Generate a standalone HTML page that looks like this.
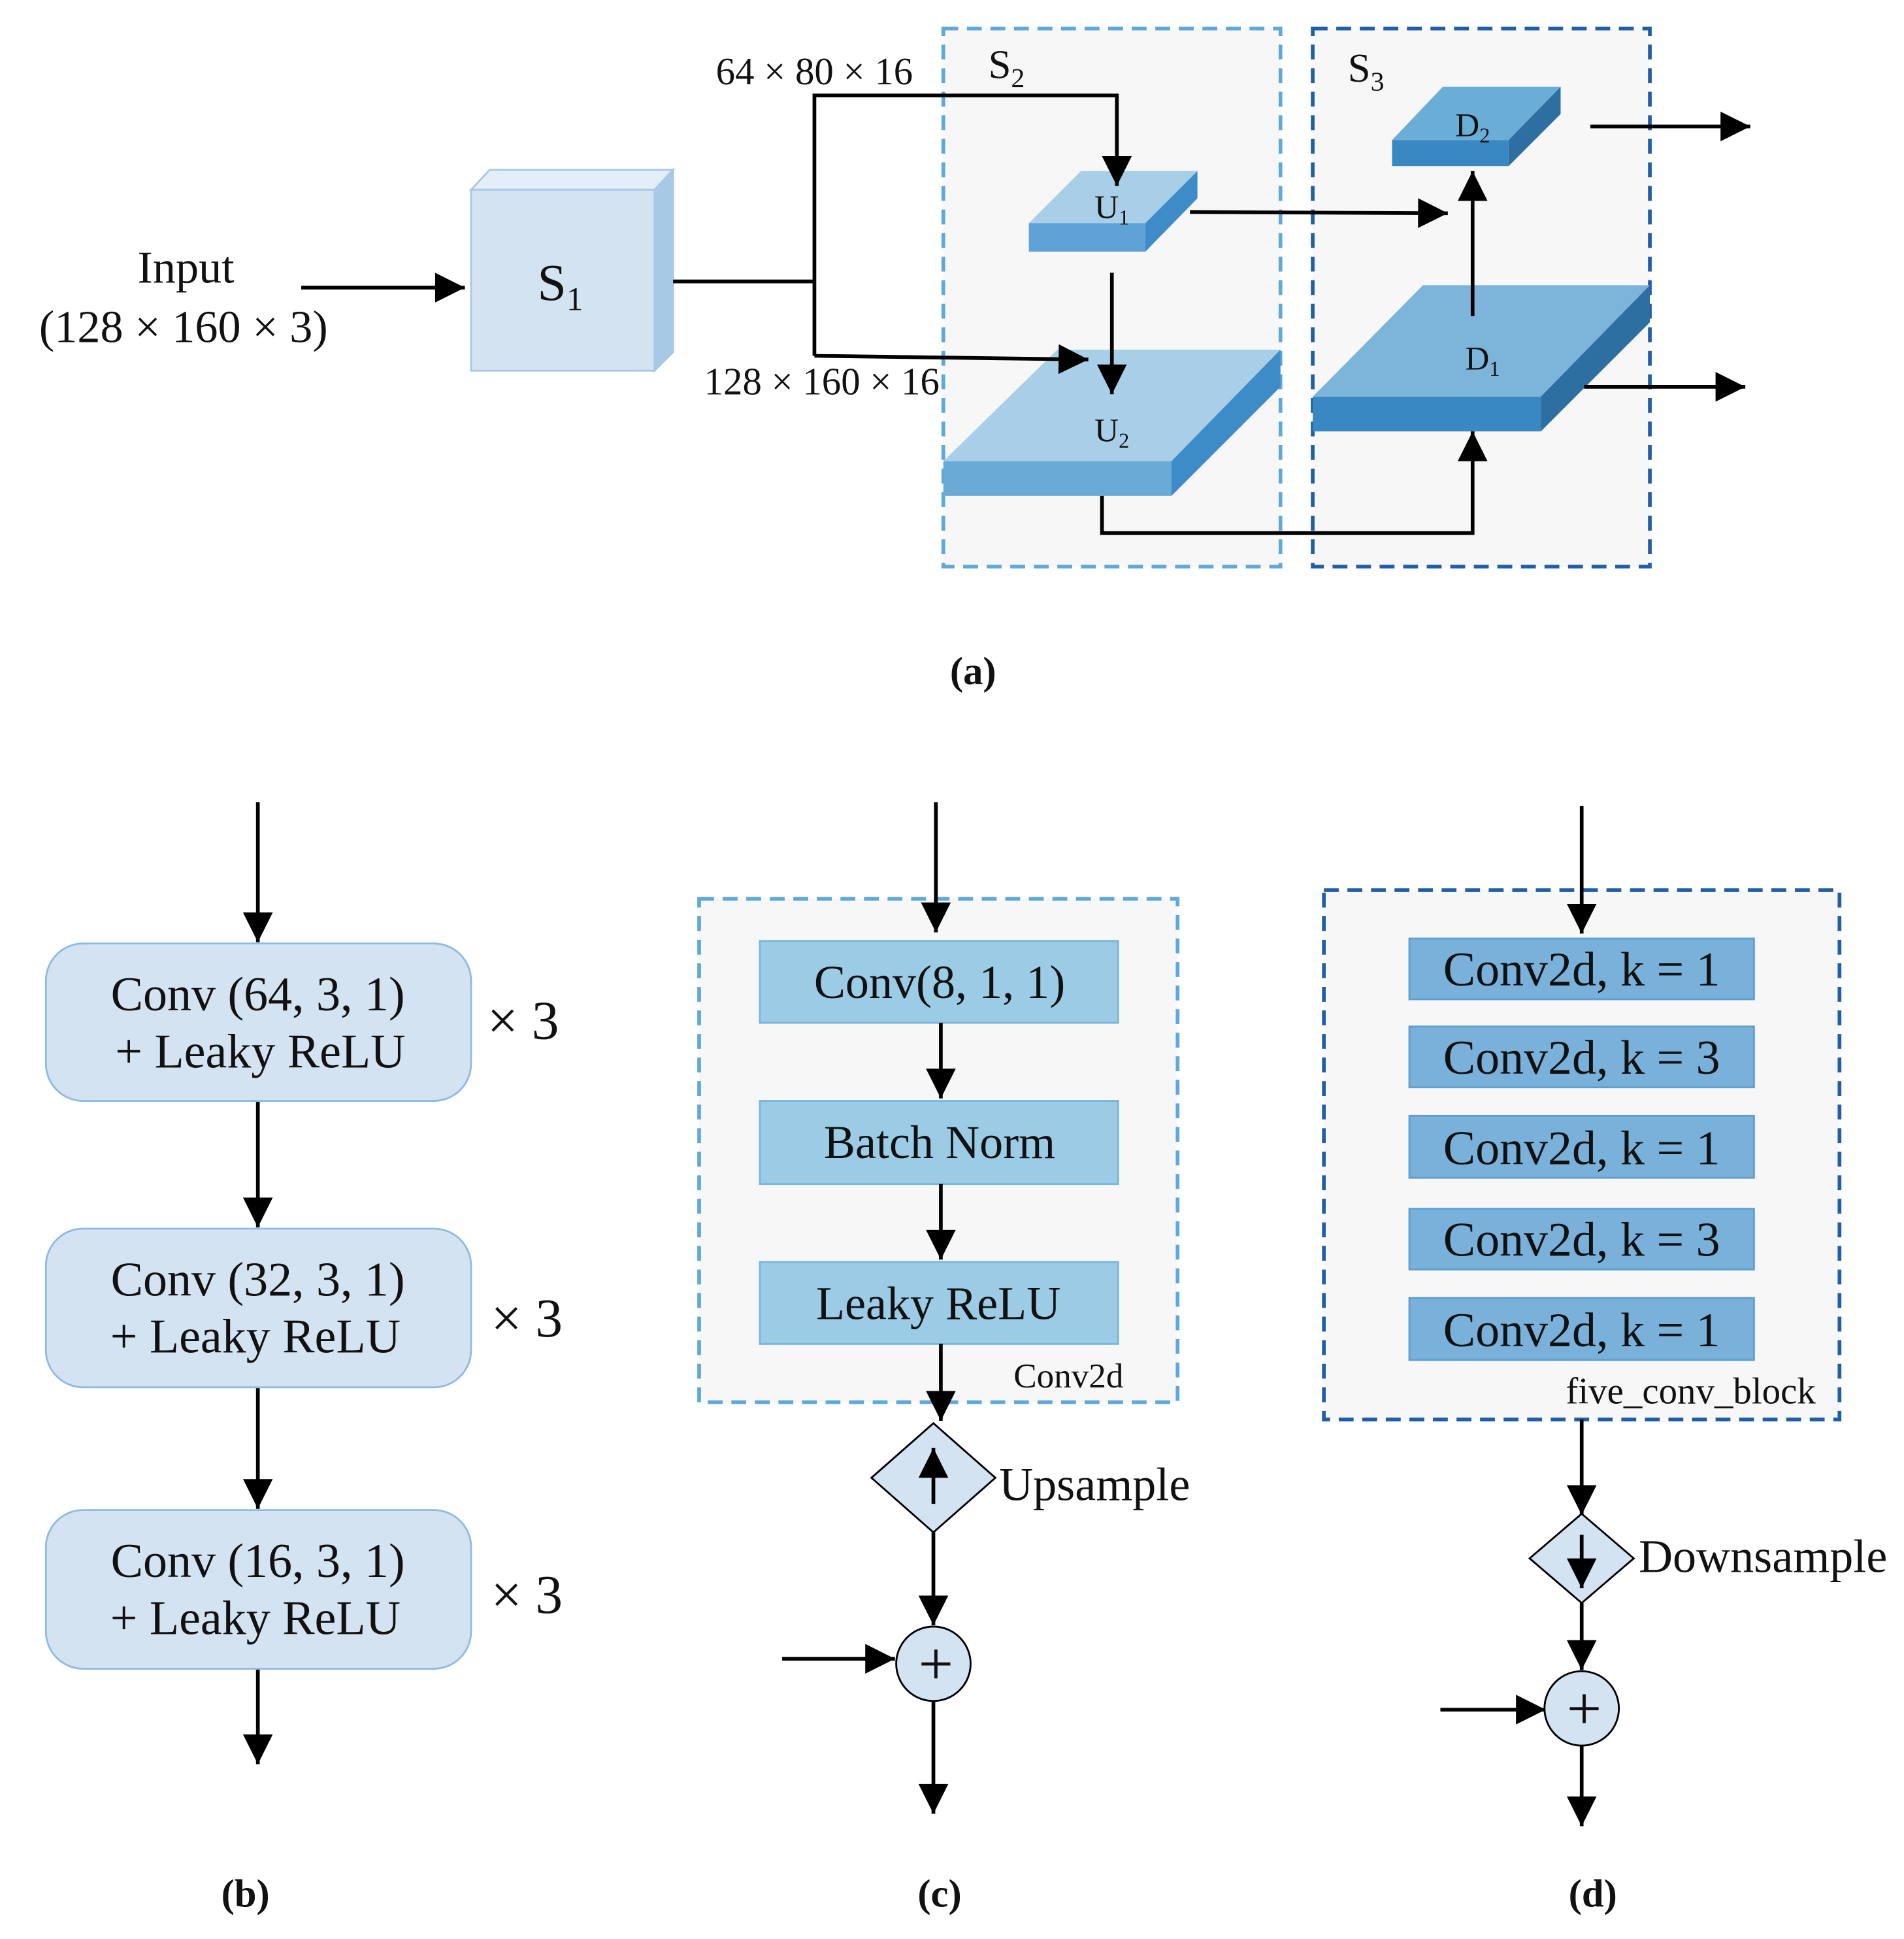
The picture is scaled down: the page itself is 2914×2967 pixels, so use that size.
<!DOCTYPE html>
<html><head><meta charset="utf-8"><style>
html,body{margin:0;padding:0;background:#fff;}
svg{display:block;}
text{font-family:"Liberation Serif",serif;fill:#111;}
</style></head><body>
<svg width="2914" height="2967" viewBox="0 0 1536 1564" xmlns="http://www.w3.org/2000/svg">
<defs>
<marker id="a" viewBox="0 0 10 10" refX="10" refY="5" markerWidth="26" markerHeight="24" markerUnits="userSpaceOnUse" orient="auto">
<path d="M0,0 L10,5 L0,10 z" fill="#000"/>
</marker>
</defs>

<!-- (a) dashed boxes -->
<rect x="761" y="23" width="272" height="434" fill="#f7f7f7" stroke="#5fa8dc" stroke-width="3" stroke-dasharray="12,7"/>
<rect x="1059" y="23" width="272" height="434" fill="#f7f7f7" stroke="#1f5fa8" stroke-width="3" stroke-dasharray="12,7"/>
<text x="812" y="63" font-size="33" text-anchor="middle">S<tspan font-size="22" dy="7">2</tspan></text>
<text x="1102" y="66" font-size="33" text-anchor="middle">S<tspan font-size="22" dy="7">3</tspan></text>

<text x="150" y="228" font-size="37" text-anchor="middle">Input</text>
<text x="148" y="276" font-size="37" text-anchor="middle">(128 × 160 × 3)</text>
<line x1="243" y1="232" x2="375" y2="232" stroke="#000" stroke-width="3" marker-end="url(#a)"/>

<!-- S1 cube -->
<polygon points="380,153 395,137 543,137 528,153" fill="#e3eef8" stroke="#a8c8e6" stroke-width="1.5"/>
<polygon points="528,153 543,137 543,284 528,299" fill="#a7c8e6" stroke="#a8c8e6" stroke-width="1.5"/>
<rect x="380" y="153" width="148" height="146" fill="#d3e3f2" stroke="#a8c8e6" stroke-width="1.5"/>
<text x="452" y="242" font-size="42" text-anchor="middle">S<tspan font-size="27" dy="8">1</tspan></text>

<!-- U1 -->
<polygon points="830,180 872,138 966,138 924,180" fill="#a9cfe8"/>
<rect x="830" y="180" width="94" height="23" fill="#5fa3d6"/>
<polygon points="924,180 966,138 966,160 924,203" fill="#3d8cc8"/>
<text x="897" y="176" font-size="27" text-anchor="middle">U<tspan font-size="17" dy="5">1</tspan></text>

<!-- U2 -->
<polygon points="761,372 853,282 1033,282 945,372" fill="#a9cfe8"/>
<rect x="761" y="372" width="184" height="28" fill="#6aaad6"/>
<polygon points="945,372 1033,282 1033,312 945,400" fill="#3d8cc8"/>
<text x="897" y="356" font-size="27" text-anchor="middle">U<tspan font-size="17" dy="5">2</tspan></text>

<!-- D1 -->
<polygon points="1059,320 1148,230 1331,230 1243,320" fill="#7db4da"/>
<rect x="1059" y="320" width="184" height="28" fill="#3a88c2"/>
<polygon points="1243,320 1331,230 1331,260 1243,348" fill="#2d6fa0"/>
<text x="1196" y="298" font-size="27" text-anchor="middle">D<tspan font-size="17" dy="5">1</tspan></text>

<!-- D2 -->
<polygon points="1123,113 1164,70 1259,70 1217,113" fill="#6aaed8"/>
<rect x="1123" y="113" width="94" height="21" fill="#3a88c2"/>
<polygon points="1217,113 1259,70 1259,92 1217,134" fill="#2d6fa0"/>
<text x="1188" y="110" font-size="27" text-anchor="middle">D<tspan font-size="17" dy="5">2</tspan></text>

<!-- connectors a (on top) -->
<polyline points="543,227 657,227" stroke="#000" stroke-width="3" fill="none"/>
<polyline points="657,287 657,77 901,77 901,150" stroke="#000" stroke-width="3" fill="none" marker-end="url(#a)"/>
<polyline points="657,287 878,290" stroke="#000" stroke-width="3" fill="none" marker-end="url(#a)"/>
<text x="657" y="68" font-size="31" text-anchor="middle">64 × 80 × 16</text>
<text x="663" y="318" font-size="31" text-anchor="middle">128 × 160 × 16</text>
<line x1="960" y1="171" x2="1168" y2="172" stroke="#000" stroke-width="3" marker-end="url(#a)"/>
<line x1="897" y1="220" x2="897" y2="318" stroke="#000" stroke-width="3" marker-end="url(#a)"/>
<polyline points="889,400 889,430 1188,430 1188,348" stroke="#000" stroke-width="3" fill="none" marker-end="url(#a)"/>
<line x1="1188" y1="255" x2="1188" y2="138" stroke="#000" stroke-width="3" marker-end="url(#a)"/>
<line x1="1283" y1="102" x2="1412" y2="102" stroke="#000" stroke-width="3" marker-end="url(#a)"/>
<line x1="1278" y1="312" x2="1408" y2="312" stroke="#000" stroke-width="3" marker-end="url(#a)"/>

<text x="785" y="552" font-size="32" font-weight="bold" text-anchor="middle">(a)</text>

<!-- (b) -->
<g stroke="#000" stroke-width="3" fill="none">
<line x1="208" y1="647" x2="208" y2="760" marker-end="url(#a)"/>
<line x1="208" y1="888" x2="208" y2="990" marker-end="url(#a)"/>
<line x1="208" y1="1119" x2="208" y2="1217" marker-end="url(#a)"/>
<line x1="208" y1="1346" x2="208" y2="1423" marker-end="url(#a)"/>
</g>
<g fill="#d3e3f2" stroke="#8fbbe0" stroke-width="1.5">
<rect x="37" y="761" width="343" height="127" rx="30"/>
<rect x="37" y="991" width="343" height="128" rx="30"/>
<rect x="37" y="1218" width="343" height="128" rx="30"/>
</g>
<g font-size="39" text-anchor="middle">
<text x="208" y="815">Conv (64, 3, 1)</text>
<text x="210" y="861">+ Leaky ReLU</text>
<text x="208" y="1045">Conv (32, 3, 1)</text>
<text x="206" y="1091">+ Leaky ReLU</text>
<text x="208" y="1272">Conv (16, 3, 1)</text>
<text x="206" y="1318">+ Leaky ReLU</text>
</g>
<g font-size="44" text-anchor="middle">
<text x="422" y="838">× 3</text>
<text x="425" y="1078">× 3</text>
<text x="425" y="1301">× 3</text>
</g>
<text x="198" y="1538" font-size="32" font-weight="bold" text-anchor="middle">(b)</text>

<!-- (c) -->
<rect x="564" y="725" width="386" height="406" fill="#f7f7f7" stroke="#5fa8dc" stroke-width="3" stroke-dasharray="12,7"/>
<g fill="#9ccbe6" stroke="#7ab5dd" stroke-width="1.5">
<rect x="613" y="759" width="289" height="66"/>
<rect x="613" y="888" width="289" height="67"/>
<rect x="613" y="1018" width="289" height="66"/>
</g>
<g font-size="38" text-anchor="middle">
<text x="758" y="805">Conv(8, 1, 1)</text>
<text x="758" y="934">Batch Norm</text>
<text x="757" y="1064">Leaky ReLU</text>
</g>
<text x="862" y="1119" font-size="28" text-anchor="middle">Conv2d</text>
<g stroke="#000" stroke-width="3" fill="none">
<line x1="755" y1="647" x2="755" y2="752" marker-end="url(#a)"/>
<line x1="759" y1="825" x2="759" y2="886" marker-end="url(#a)"/>
<line x1="759" y1="955" x2="759" y2="1016" marker-end="url(#a)"/>
<line x1="759" y1="1084" x2="759" y2="1146" marker-end="url(#a)"/>
<line x1="753" y1="1236" x2="753" y2="1311" marker-end="url(#a)"/>
<line x1="631" y1="1338" x2="722" y2="1338" marker-end="url(#a)"/>
<line x1="753" y1="1372" x2="753" y2="1463" marker-end="url(#a)"/>
</g>
<polygon points="753,1148 803,1192 753,1236 703,1192" fill="#d3e3f2" stroke="#000" stroke-width="1.5"/>
<line x1="753" y1="1213" x2="753" y2="1168" stroke="#000" stroke-width="3" marker-end="url(#a)"/>
<text x="806" y="1210" font-size="38">Upsample</text>
<circle cx="753" cy="1342" r="30" fill="#d3e3f2" stroke="#000" stroke-width="1.5"/>
<text x="755" y="1359" font-size="50" text-anchor="middle">+</text>
<text x="758" y="1538" font-size="32" font-weight="bold" text-anchor="middle">(c)</text>

<!-- (d) -->
<rect x="1068" y="718" width="416" height="427" fill="#f7f7f7" stroke="#1f5fa8" stroke-width="3" stroke-dasharray="12,7"/>
<g fill="#79b1da" stroke="#5f9fd0" stroke-width="1.5">
<rect x="1137" y="757" width="278" height="49"/>
<rect x="1137" y="828" width="278" height="49"/>
<rect x="1137" y="900" width="278" height="50"/>
<rect x="1137" y="975" width="278" height="49"/>
<rect x="1137" y="1047" width="278" height="50"/>
</g>
<g font-size="39" text-anchor="middle">
<text x="1276" y="795">Conv2d, k = 1</text>
<text x="1276" y="866">Conv2d, k = 3</text>
<text x="1276" y="939">Conv2d, k = 1</text>
<text x="1276" y="1013">Conv2d, k = 3</text>
<text x="1276" y="1086">Conv2d, k = 1</text>
</g>
<text x="1364" y="1132" font-size="30" text-anchor="middle">five_conv_block</text>
<g stroke="#000" stroke-width="3" fill="none">
<line x1="1276" y1="650" x2="1276" y2="753" marker-end="url(#a)"/>
<line x1="1276" y1="1145" x2="1276" y2="1222" marker-end="url(#a)"/>
<line x1="1276" y1="1293" x2="1276" y2="1347" marker-end="url(#a)"/>
<line x1="1162" y1="1379" x2="1247" y2="1379" marker-end="url(#a)"/>
<line x1="1276" y1="1408" x2="1276" y2="1473" marker-end="url(#a)"/>
</g>
<polygon points="1276,1221 1318,1257 1276,1293 1234,1257" fill="#d3e3f2" stroke="#000" stroke-width="1.5"/>
<line x1="1276" y1="1238" x2="1276" y2="1281" stroke="#000" stroke-width="3" marker-end="url(#a)"/>
<text x="1322" y="1268" font-size="38">Downsample</text>
<circle cx="1276" cy="1378" r="30" fill="#d3e3f2" stroke="#000" stroke-width="1.5"/>
<text x="1278" y="1395" font-size="50" text-anchor="middle">+</text>
<text x="1285" y="1538" font-size="32" font-weight="bold" text-anchor="middle">(d)</text>
</svg>
</body></html>
